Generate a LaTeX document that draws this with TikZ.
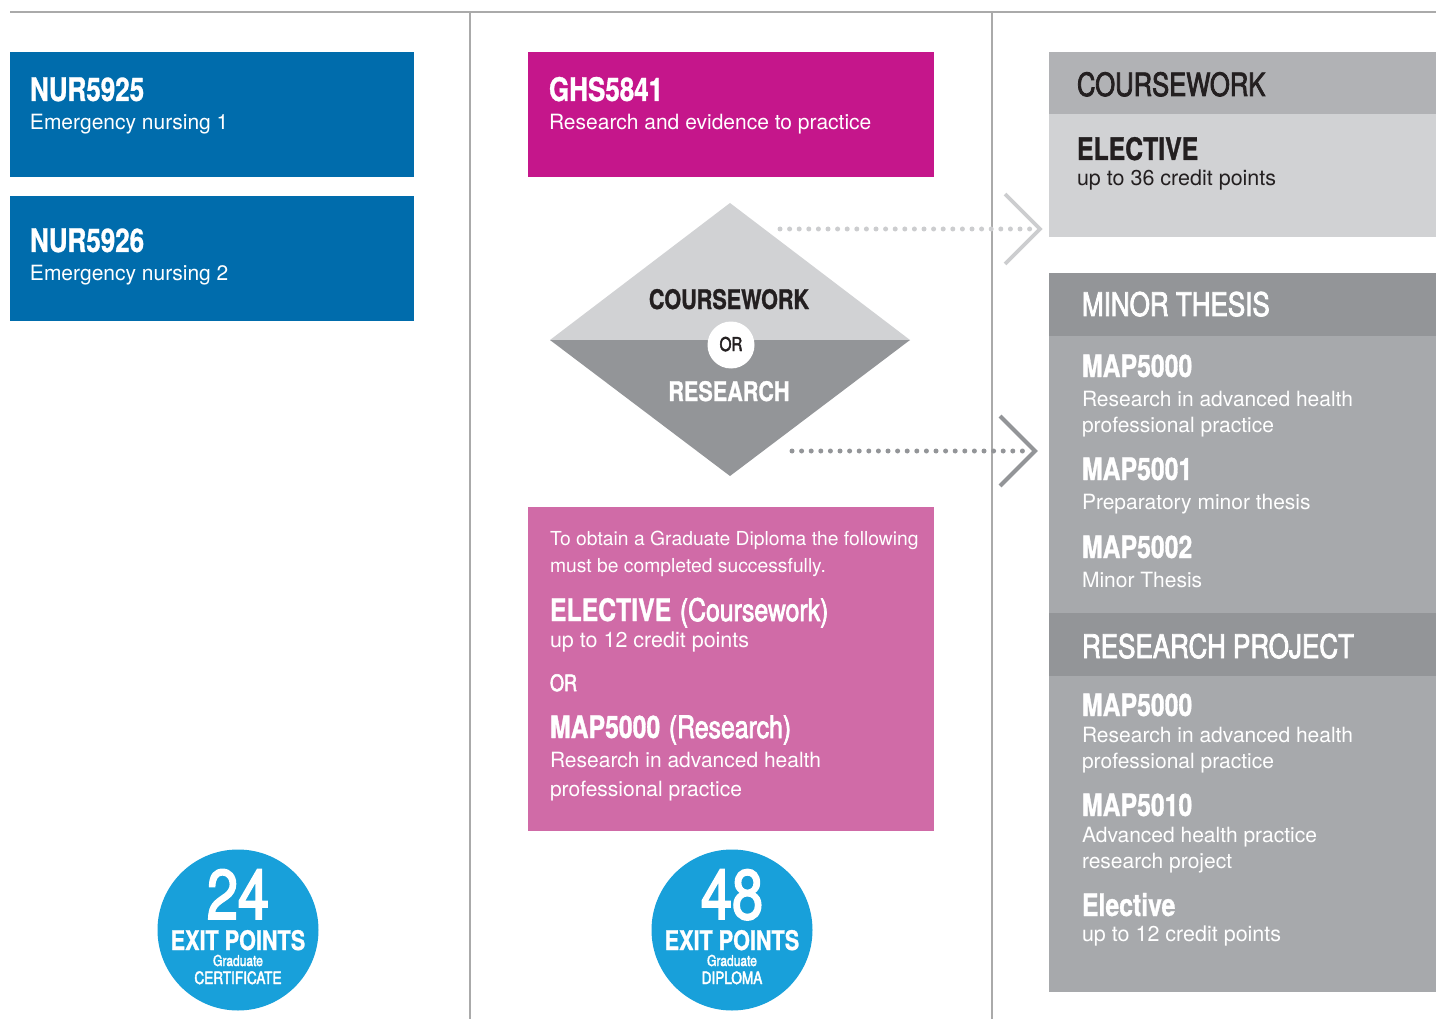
\documentclass[tikz,border=0pt]{standalone}
\usepackage{fontspec}
\setmainfont{TeX Gyre Heros}
\newfontfamily\CondMedFam[FakeStretch=0.8,FakeBold=2.4]{TeX Gyre Heros}
\newfontfamily\CondBoldFam[FakeStretch=0.8,FakeBold=1,UprightFont=* Bold]{TeX Gyre Heros}
\newcommand\CondB{\CondBoldFam}
\newcommand\CondR{\CondMedFam}
\newcommand\fsz[1]{\fontsize{#1}{#1}\selectfont}
\definecolor{nblue}{RGB}{0,108,172}
\definecolor{magentabox}{RGB}{197,22,139}
\definecolor{pinkbox}{RGB}{208,107,167}
\definecolor{lgray}{RGB}{209,210,212}
\definecolor{hgray}{RGB}{177,178,181}
\definecolor{dgray}{RGB}{147,149,152}
\definecolor{mgray}{RGB}{167,169,172}
\definecolor{dotlight}{RGB}{204,205,207}
\definecolor{cblue}{RGB}{24,160,218}
\definecolor{dtext}{RGB}{35,31,32}
\definecolor{rulegray}{RGB}{170,170,170}
\begin{document}
\begin{tikzpicture}[x=1pt,y=-1pt,
  box/.style={inner sep=0pt, outer sep=0pt, anchor=north west, draw=none},
  tx/.style={anchor=base west, inner sep=0pt, outer sep=0pt, text=white},
  txc/.style={anchor=base, inner sep=0pt, outer sep=0pt, text=white},
  rule/.style={draw=rulegray, line width=1.8pt},
  dotline/.style={line width=5pt, line cap=round, dash pattern=on 0pt off 9.6pt},
  chev/.style={line width=3.6pt, line cap=butt, line join=miter},
  exitc/.style={circle, fill=cblue, minimum size=161pt, inner sep=0pt, outer sep=0pt}]
\useasboundingbox (0,0) rectangle (1436,1019);
\fill[white] (0,0) rectangle (1436,1019);
% rules
\coordinate (hl) at (10,12);
\coordinate (hr) at (1436,12);
\coordinate (v1t) at (470,12);
\coordinate (v1b) at (470,1019);
\coordinate (v2t) at (992,12);
\coordinate (v2b) at (992,1019);
\draw[rule] (hl) -- (hr);
\draw[rule] (v1t) -- (v1b);
\draw[rule] (v2t) -- (v2b);
% left column
\node[box, fill=nblue, minimum width=404pt, minimum height=125pt] (nur1) at (10,52) {};
\node[box, fill=nblue, minimum width=404pt, minimum height=125pt] (nur2) at (10,196) {};
\node[tx, font=\CondB\fsz{32.5}] (t1) at (30,101) {NUR5925};
\node[tx, font=\fsz{21}] (t2) at (30,130) {Emergency nursing 1};
\node[tx, font=\CondB\fsz{32.5}] (t3) at (30,252) {NUR5926};
\node[tx, font=\fsz{21}] (t4) at (30,280) {Emergency nursing 2};
% middle column
\node[box, fill=magentabox, minimum width=406pt, minimum height=125pt] (ghs) at (528,52) {};
\node[tx, font=\CondB\fsz{32.5}] (t5) at (549,101) {GHS5841};
\node[tx, font=\fsz{21}] (t6) at (549,130) {Research and evidence to practice};
% diamond
\coordinate (dt) at (730,203);
\coordinate (dl) at (550,340);
\coordinate (dr) at (910,340);
\coordinate (db) at (730,476);
\fill[lgray] (dt) -- (dr) -- (dl) -- cycle;
\fill[dgray] (dl) -- (dr) -- (db) -- cycle;
\node[circle, fill=white, minimum size=47pt, inner sep=0pt] (orc) at (731,345) {};
\node[txc, text=dtext, font=\CondB\fsz{27}] (d1) at (729,309) {COURSEWORK};
\node[txc, text=dtext, font=\CondR\fsz{19}] (d2) at (731,351) {OR};
\node[txc, font=\CondB\fsz{27}] (d3) at (729,401) {RESEARCH};
% requirement box
\node[box, fill=pinkbox, minimum width=406pt, minimum height=324pt] (req) at (528,507) {};
\node[tx, font=\fsz{19.3}] (p1) at (550,545) {To obtain a Graduate Diploma the following};
\node[tx, font=\fsz{19.3}] (p2) at (550,572) {must be completed successfully.};
\node[tx, font=\fsz{31}] (p3) at (550,621) {{\CondB ELECTIVE} {\CondR (Coursework)}};
\node[tx, font=\fsz{21.5}] (p4) at (550,647) {up to 12 credit points};
\node[tx, font=\CondR\fsz{22.5}] (p5) at (550,691) {OR};
\node[tx, font=\fsz{31}] (p6) at (550,738) {{\CondB MAP5000} {\CondR (Research)}};
\node[tx, font=\fsz{21}] (p7) at (550,767) {Research in advanced health};
\node[tx, font=\fsz{21}] (p8) at (550,796) {professional practice};
% right column
\node[box, fill=hgray, minimum width=387pt, minimum height=62pt] (cwh) at (1049,52) {};
\node[box, fill=lgray, minimum width=387pt, minimum height=123pt] (cwb) at (1049,114) {};
\node[box, fill=dgray, minimum width=387pt, minimum height=63pt] (mth) at (1049,273) {};
\node[box, fill=mgray, minimum width=387pt, minimum height=277pt] (mtb) at (1049,336) {};
\node[box, fill=dgray, minimum width=387pt, minimum height=63pt] (rph) at (1049,613) {};
\node[box, fill=mgray, minimum width=387pt, minimum height=316pt] (rpb) at (1049,676) {};
\node[tx, text=dtext, font=\CondR\fsz{32}] (r1) at (1077,96) {COURSEWORK};
\node[tx, text=dtext, font=\CondB\fsz{31}] (r2) at (1077,160) {ELECTIVE};
\node[tx, text=dtext, font=\fsz{21.5}] (r3) at (1077,186) {up to 36 credit points};
\node[tx, font=\CondR\fsz{32.5}] (r4) at (1082,316) {MINOR THESIS};
\node[tx, font=\CondB\fsz{31}] (r5) at (1082,377) {MAP5000};
\node[tx, font=\fsz{21}] (r6) at (1082,406) {Research in advanced health};
\node[tx, font=\fsz{21}] (r7) at (1082,432) {professional practice};
\node[tx, font=\CondB\fsz{31}] (r8) at (1082,480) {MAP5001};
\node[tx, font=\fsz{21}] (r9) at (1082,509) {Preparatory minor thesis};
\node[tx, font=\CondB\fsz{31}] (r10) at (1082,558) {MAP5002};
\node[tx, font=\fsz{21}] (r11) at (1082,587) {Minor Thesis};
\node[tx, font=\CondR\fsz{32.5}] (r12) at (1082,658) {RESEARCH PROJECT};
\node[tx, font=\CondB\fsz{31}] (r13) at (1082,716) {MAP5000};
\node[tx, font=\fsz{21}] (r14) at (1082,742) {Research in advanced health};
\node[tx, font=\fsz{21}] (r15) at (1082,768) {professional practice};
\node[tx, font=\CondB\fsz{31}] (r16) at (1082,816) {MAP5010};
\node[tx, font=\fsz{21}] (r17) at (1082,842) {Advanced health practice};
\node[tx, font=\fsz{21}] (r18) at (1082,868) {research project};
\node[tx, font=\CondB\fsz{31}] (r19) at (1082,916) {Elective};
\node[tx, font=\fsz{21.5}] (r20) at (1082,941) {up to 12 credit points};
% connectors
\coordinate (a1s) at (780,229);
\coordinate (a1e) at (1030,229);
\coordinate (a1tip) at (1040,229);
\coordinate (a2s) at (792,451);
\coordinate (a2e) at (1025,451);
\coordinate (a2tip) at (1035,451);
\draw[dotline, draw=dotlight] (a1s) -- (a1e);
\draw[chev, draw=dotlight] (a1tip) ++(-35,-35) -- (a1tip) -- ++(-35,35);
\draw[dotline, draw=dgray] (a2s) -- (a2e);
\draw[chev, draw=dgray, line width=4pt] (a2tip) ++(-35,-35) -- (a2tip) -- ++(-35,35);
% exit circles
\node[exitc] (c1) at (238,930) {};
\node[txc, font=\CondR\fsz{70}] (c1a) at (238,919) {24};
\node[txc, font=\CondB\fsz{27}] (c1b) at (238,950) {EXIT POINTS};
\node[txc, font=\CondR\fsz{15}] (c1c) at (238,966) {Graduate};
\node[txc, font=\CondR\fsz{17}] (c1d) at (238,984) {CERTIFICATE};
\node[exitc] (c2) at (732,930) {};
\node[txc, font=\CondR\fsz{70}] (c2a) at (732,919) {48};
\node[txc, font=\CondB\fsz{27}] (c2b) at (732,950) {EXIT POINTS};
\node[txc, font=\CondR\fsz{15}] (c2c) at (732,966) {Graduate};
\node[txc, font=\CondR\fsz{17}] (c2d) at (732,984) {DIPLOMA};
\end{tikzpicture}
\end{document}
